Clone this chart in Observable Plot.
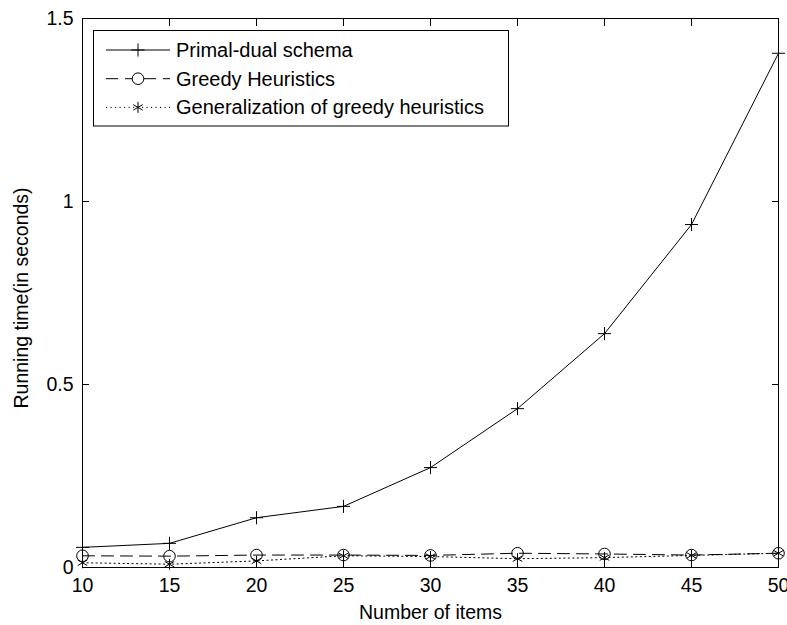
<!DOCTYPE html>
<html>
<head>
<meta charset="utf-8">
<script src="https://cdn.jsdelivr.net/npm/d3@7"></script>
<script src="https://cdn.jsdelivr.net/npm/@observablehq/plot@0.6"></script>
<style>
  html, body { margin: 0; padding: 0; background: #fff; }
  #chart svg { display: block; }
</style>
</head>
<body>
<div id="chart"></div>
<script>
// Running time of three methods versus number of items
const items = [10, 15, 20, 25, 30, 35, 40, 45, 50];
const primalDual = [0.055, 0.066, 0.136, 0.167, 0.273, 0.434, 0.639, 0.937, 1.405];
const greedy = [0.032, 0.031, 0.034, 0.034, 0.033, 0.039, 0.037, 0.034, 0.039];
const generalized = [0.013, 0.009, 0.018, 0.032, 0.030, 0.024, 0.027, 0.033, 0.039];

const xTicks = [10, 15, 20, 25, 30, 35, 40, 45, 50];
const yTicks = [0, 0.5, 1, 1.5];
const yTickLabels = ["0", "0.5", "1", "1.5"];

const seriesNames = ["Primal-dual schema", "Greedy Heuristics", "Generalization of greedy heuristics"];
const xTitle = "Number of items";
const yTitle = "Running time(in seconds)";

const rows = (vals) => items.map((n, i) => ({n, t: vals[i]}));
const series = [
  {name: seriesNames[0], data: rows(primalDual), dash: null, symbol: "plus", r: 4.3},
  {name: seriesNames[1], data: rows(greedy), dash: "12,7", symbol: "circle", r: 5.8},
  {name: seriesNames[2], data: rows(generalized), dash: "1.2,3.3", symbol: "asterisk", r: 5.2}
];

const font = "'Liberation Sans', Arial, Helvetica, sans-serif";

const marks = [
  Plot.frame({stroke: "black", strokeWidth: 1}),
  // inward ticks on all four sides
  Plot.axisX(xTicks, {anchor: "bottom", tickSize: -7, tickPadding: 18, label: null, stroke: "black", fill: "black", tickFormat: d => String(d)}),
  Plot.axisX(xTicks, {anchor: "top", tickSize: -7, label: null, stroke: "black", tickFormat: () => ""}),
  Plot.axisY(yTicks, {anchor: "left", tickSize: -7, tickPadding: 16, label: null, stroke: "black", fill: "black", tickFormat: (d, i) => yTickLabels[i]}),
  Plot.axisY(yTicks, {anchor: "right", tickSize: -7, label: null, stroke: "black", tickFormat: () => ""}),
  Plot.text([xTitle], {frameAnchor: "bottom", dy: 45, lineAnchor: "middle", fill: "black", fontSize: 19.5}),
  Plot.text([yTitle], {frameAnchor: "left", textAnchor: "middle", rotate: -90, dx: -61, dy: 5, lineAnchor: "middle", fill: "black", fontSize: 19.5})
];

for (const s of series) {
  marks.push(Plot.line(s.data, {x: "n", y: "t", stroke: "black", strokeWidth: 1, strokeDasharray: s.dash}));
  marks.push(Plot.dot(s.data, {x: "n", y: "t", symbol: s.symbol, r: s.r, stroke: "black", fill: "none", strokeWidth: 1}));
}

const chart = Plot.plot({
  width: 787,
  height: 625,
  marginLeft: 82,
  marginRight: 9,
  marginTop: 18,
  marginBottom: 58,
  x: {domain: [10, 50], label: null},
  y: {domain: [0, 1.5], label: null},
  style: {fontFamily: font, fontSize: "19.5px", color: "black", background: "white"},
  marks
});

document.getElementById("chart").appendChild(chart);

// Legend box in the upper-left corner of the axes
const svg = d3.select(chart.tagName === "svg" ? chart : chart.querySelector("svg"));
const legend = svg.append("g")
  .attr("font-family", font)
  .attr("font-size", 20)
  .attr("text-anchor", "start");
legend.append("rect")
  .attr("x", 93.5).attr("y", 30.5).attr("width", 415).attr("height", 95.5)
  .attr("fill", "white").attr("stroke", "black").attr("stroke-width", 1);

const symbolTypes = {plus: d3.symbolPlus, circle: d3.symbolCircle, asterisk: d3.symbolAsterisk};
series.forEach((s, i) => {
  const cy = 50 + i * 28.7;
  const g = legend.append("g");
  g.append("line")
    .attr("x1", 106).attr("x2", 170).attr("y1", cy).attr("y2", cy)
    .attr("stroke", "black").attr("stroke-width", 1)
    .attr("stroke-dasharray", s.dash);
  g.append("path")
    .attr("transform", `translate(138,${cy})`)
    .attr("d", d3.symbol(symbolTypes[s.symbol], s.r * s.r * Math.PI)())
    .attr("fill", s.symbol === "circle" ? "white" : "none")
    .attr("stroke", "black").attr("stroke-width", 1);
  g.append("text")
    .attr("x", 176).attr("y", cy + 7)
    .attr("text-anchor", "start")
    .attr("fill", "black")
    .text(s.name);
});
</script>
</body>
</html>
